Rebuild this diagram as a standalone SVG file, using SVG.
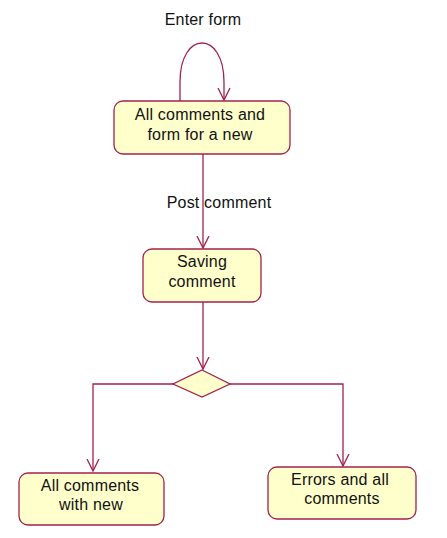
<svg xmlns="http://www.w3.org/2000/svg" width="447" height="538" viewBox="0 0 447 538">
<defs>
<style>
.node{fill:#FFFFCC;stroke:#A3224F;stroke-width:1.3}
.edge{fill:none;stroke:#A3224F;stroke-width:1.3}
text{font-family:"Liberation Sans",Arial,sans-serif;font-size:16px;letter-spacing:0.2px;fill:#111111;text-anchor:middle}
</style>
<marker id="arr" viewBox="0 0 14 14" refX="12" refY="7" markerWidth="14" markerHeight="14" markerUnits="userSpaceOnUse" orient="auto">
<path d="M0,1 L12,7 L0,13" fill="none" stroke="#A3224F" stroke-width="1.3"/>
</marker>
</defs>
<rect width="447" height="538" fill="#ffffff"/>
<g id="connectors">
<path class="edge" d="M180,101 L180,82 C180,30 224,30 224,82 L224,100" marker-end="url(#arr)"/>
<text x="203" y="25">Enter form</text>
<path class="edge" d="M203,154 L203,248" marker-end="url(#arr)"/>
<text x="219" y="208">Post comment</text>
<path class="edge" d="M203,302 L203,369" marker-end="url(#arr)"/>
<path class="edge" d="M173,384 L93,384 L93,471" marker-end="url(#arr)"/>
<path class="edge" d="M230,384 L343,384 L343,466" marker-end="url(#arr)"/>
</g>
<g id="node-all-comments-form">
<rect class="node" x="114" y="101" width="176" height="53" rx="9"/>
<text x="200" y="120">All comments and</text>
<text x="200" y="140">form for a new</text>
</g>
<g id="node-saving">
<rect class="node" x="143" y="249" width="118" height="53" rx="9"/>
<text x="202" y="267">Saving</text>
<text x="202" y="287">comment</text>
</g>
<g id="node-decision">
<polygon class="node" points="202,370 230,384 202,397 173,384"/>
</g>
<g id="node-all-with-new">
<rect class="node" x="19" y="473" width="145" height="52" rx="9"/>
<text x="90" y="491">All comments</text>
<text x="91" y="510">with new</text>
</g>
<g id="node-errors">
<rect class="node" x="268" y="467" width="148" height="52" rx="9"/>
<text x="340" y="485">Errors and all</text>
<text x="342" y="504">comments</text>
</g>
</svg>
